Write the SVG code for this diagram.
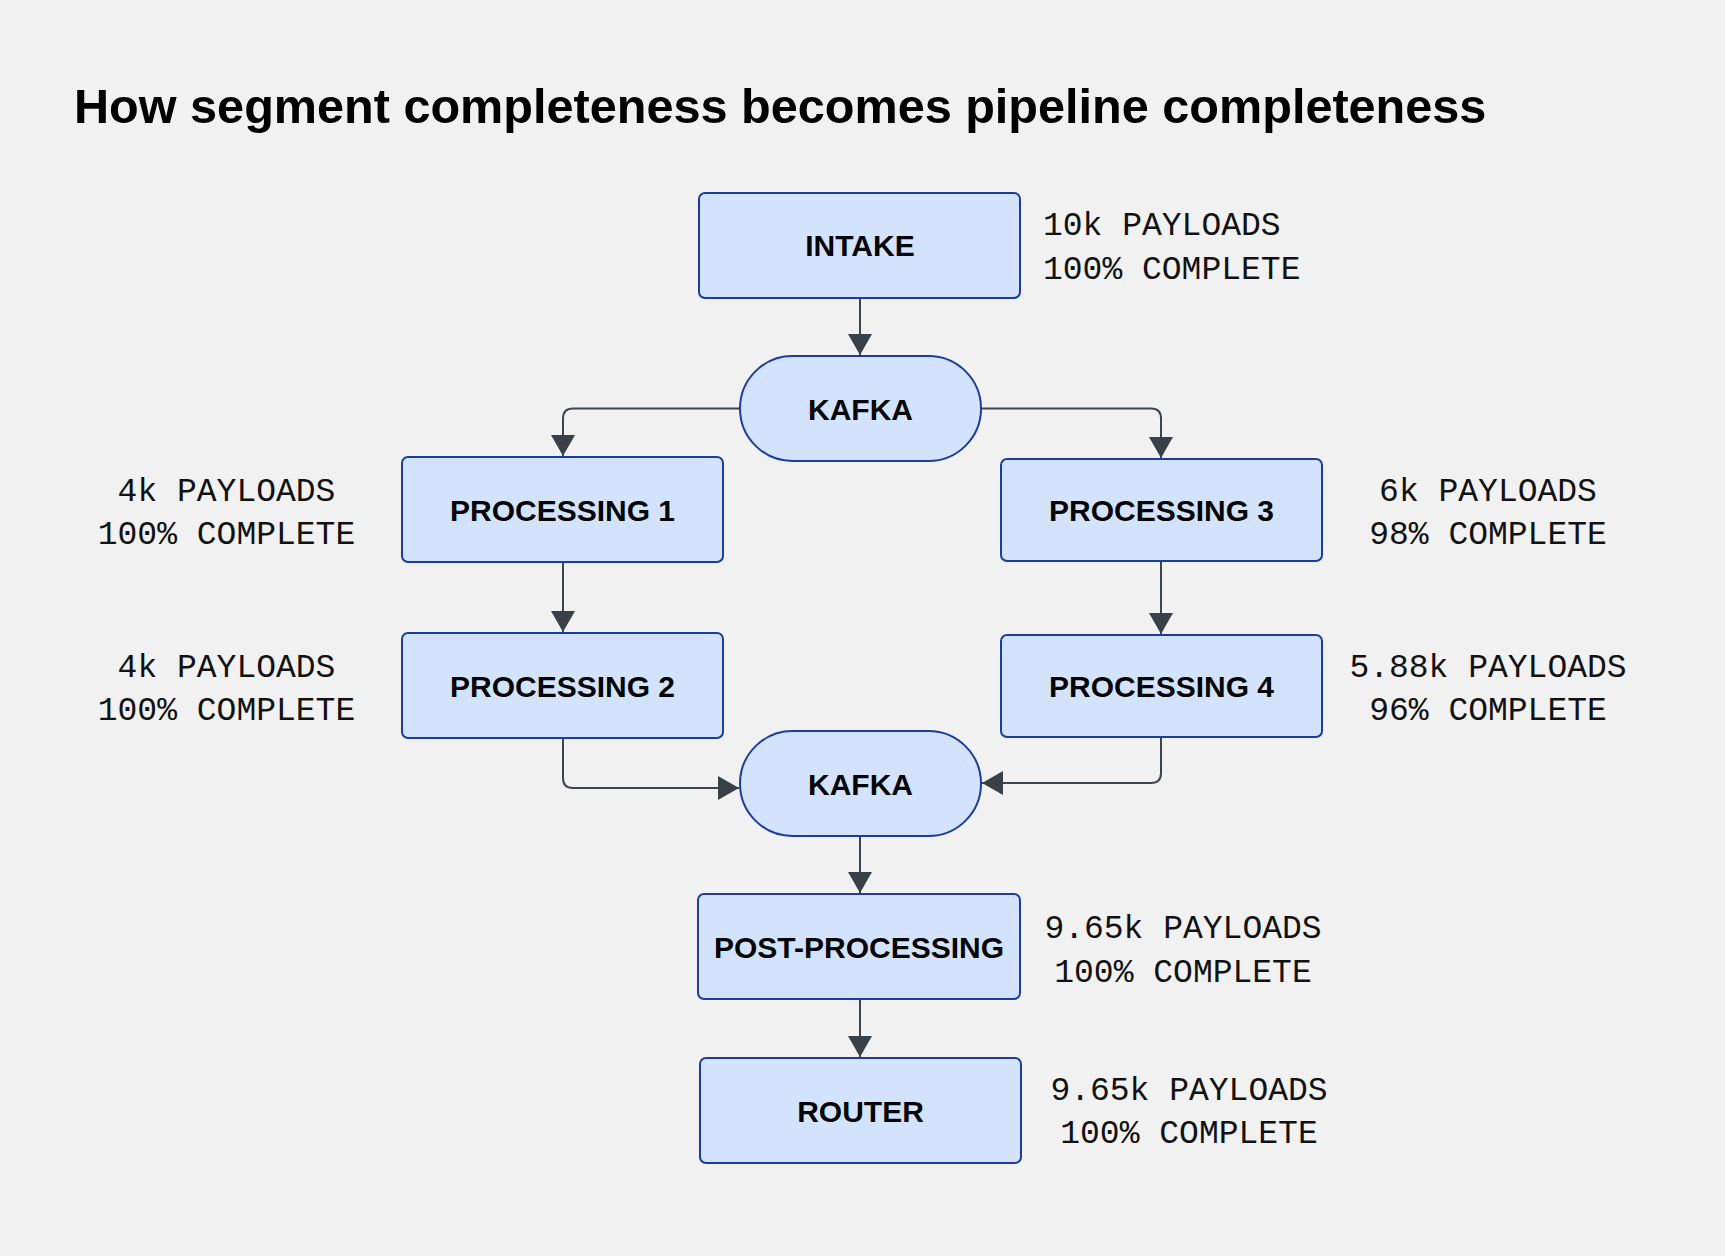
<svg xmlns="http://www.w3.org/2000/svg" width="1725" height="1256" viewBox="0 0 1725 1256">
  <defs>
    <style>
      .node { fill: #d4e3fd; stroke: #1c3d9e; stroke-width: 2; }
      .label { font-family: "Liberation Sans", Arial, sans-serif; font-weight: bold; font-size: 30px; fill: #050505; text-anchor: middle; }
      .note { font-family: "Liberation Mono", "DejaVu Sans Mono", monospace; font-size: 33px; fill: #111111; }
      .mid { text-anchor: middle; }
      .edge { fill: none; stroke: #3d444d; stroke-width: 2; marker-end: url(#arrow); }
      .title { font-family: "Liberation Sans", Arial, sans-serif; font-weight: bold; font-size: 48.6px; fill: #000000; }
    </style>
    <marker id="arrow" markerUnits="userSpaceOnUse" markerWidth="22" markerHeight="26" viewBox="0 0 22 26" refX="21" refY="12" orient="auto">
      <path d="M0,0 L21,12 L0,24 Z" fill="#3a4048"/>
    </marker>
  </defs>
  <rect x="0" y="0" width="1725" height="1256" fill="#f1f1f1"/>
  <text class="title" x="74" y="123">How segment completeness becomes pipeline completeness</text>

  <g id="connectors">
    <path class="edge" d="M860,298 V355"/>
    <path class="edge" d="M740,408.5 H573 Q563,408.5 563,418.5 V456"/>
    <path class="edge" d="M981,408.5 H1151 Q1161,408.5 1161,418.5 V458"/>
    <path class="edge" d="M563,563 V632"/>
    <path class="edge" d="M1161,561 V634"/>
    <path class="edge" d="M563,738 V778 Q563,788 573,788 H739"/>
    <path class="edge" d="M1161,737 V773 Q1161,783 1151,783 H982"/>
    <path class="edge" d="M860,836 V893"/>
    <path class="edge" d="M860,999 V1057"/>
  </g>

  <g id="intake">
    <rect class="node" x="699" y="193" width="321" height="105" rx="6"/>
    <text class="label" x="860" y="256">INTAKE</text>
    <text class="note" x="1043" y="235">10k PAYLOADS</text>
    <text class="note" x="1043" y="279">100% COMPLETE</text>
  </g>
  <g id="kafka1">
    <rect class="node" x="740" y="356" width="241" height="105" rx="52.5"/>
    <text class="label" x="860.5" y="419.5">KAFKA</text>
  </g>
  <g id="processing1">
    <rect class="node" x="402" y="457" width="321" height="105" rx="6"/>
    <text class="label" x="562.5" y="520.5">PROCESSING 1</text>
    <text class="note mid" x="226.5" y="501">4k PAYLOADS</text>
    <text class="note mid" x="226.5" y="544">100% COMPLETE</text>
  </g>
  <g id="processing2">
    <rect class="node" x="402" y="633" width="321" height="105" rx="6"/>
    <text class="label" x="562.5" y="696.5">PROCESSING 2</text>
    <text class="note mid" x="226.5" y="677">4k PAYLOADS</text>
    <text class="note mid" x="226.5" y="720">100% COMPLETE</text>
  </g>
  <g id="processing3">
    <rect class="node" x="1001" y="459" width="321" height="102" rx="6"/>
    <text class="label" x="1161.5" y="521">PROCESSING 3</text>
    <text class="note mid" x="1488" y="501">6k PAYLOADS</text>
    <text class="note mid" x="1488" y="544">98% COMPLETE</text>
  </g>
  <g id="processing4">
    <rect class="node" x="1001" y="635" width="321" height="102" rx="6"/>
    <text class="label" x="1161.5" y="697">PROCESSING 4</text>
    <text class="note mid" x="1488" y="677">5.88k PAYLOADS</text>
    <text class="note mid" x="1488" y="720">96% COMPLETE</text>
  </g>
  <g id="kafka2">
    <rect class="node" x="740" y="731" width="241" height="105" rx="52.5"/>
    <text class="label" x="860.5" y="794.5">KAFKA</text>
  </g>
  <g id="post-processing">
    <rect class="node" x="698" y="894" width="322" height="105" rx="6"/>
    <text class="label" x="859" y="957.5">POST-PROCESSING</text>
    <text class="note mid" x="1183" y="938">9.65k PAYLOADS</text>
    <text class="note mid" x="1183" y="982">100% COMPLETE</text>
  </g>
  <g id="router">
    <rect class="node" x="700" y="1058" width="321" height="105" rx="6"/>
    <text class="label" x="860.5" y="1121.5">ROUTER</text>
    <text class="note mid" x="1189" y="1100">9.65k PAYLOADS</text>
    <text class="note mid" x="1189" y="1143">100% COMPLETE</text>
  </g>
</svg>
